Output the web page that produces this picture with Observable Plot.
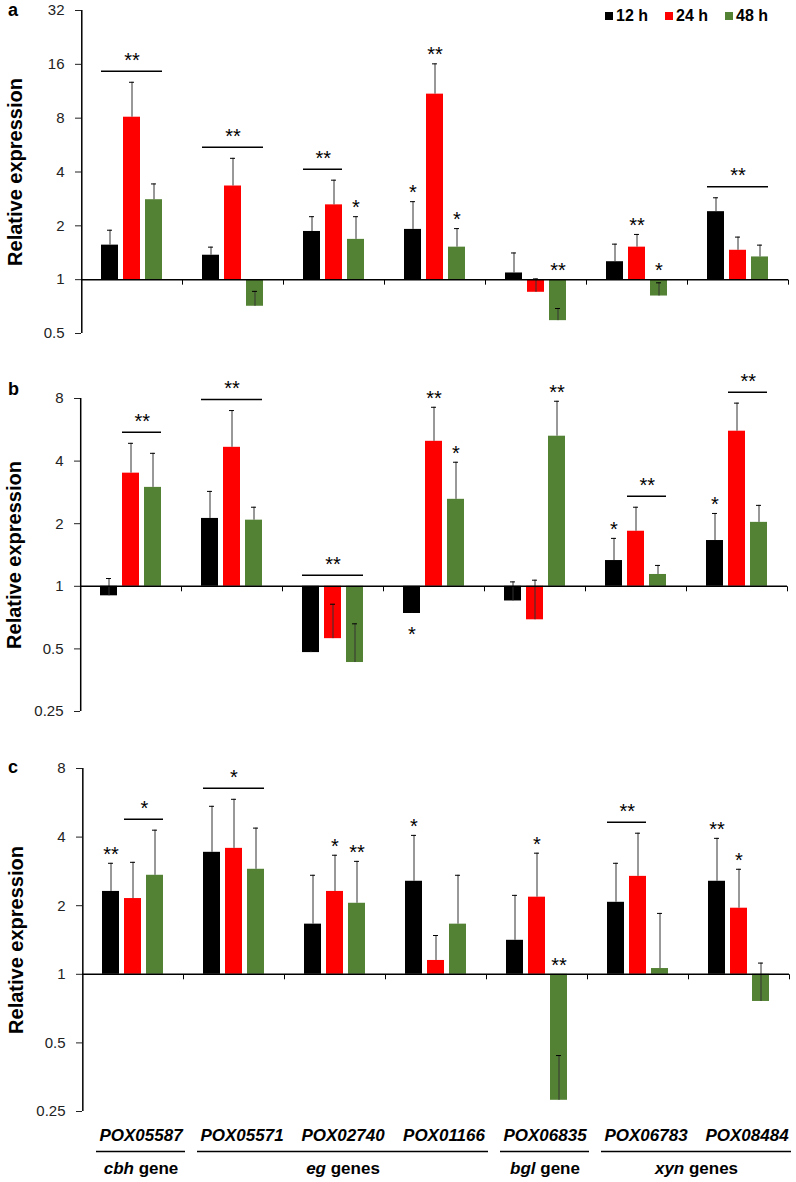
<!DOCTYPE html>
<html><head><meta charset="utf-8">
<script src="https://cdn.jsdelivr.net/npm/d3@7"></script>
<script src="https://cdn.jsdelivr.net/npm/@observablehq/plot@0.6"></script>
<style>
html,body{margin:0;padding:0;background:#fff;overflow:hidden}
#fig{position:relative;width:796px;height:1182px;font-family:"Liberation Sans",Arial,sans-serif;overflow:hidden}
#fig svg{overflow:visible;background:transparent !important;position:absolute;left:0;max-width:none !important}
.panel-letter{position:absolute;left:8px;font-weight:bold;font-size:18px;line-height:20px}
#legend{position:absolute;top:7px;left:605px;display:flex;gap:17px;font-weight:bold;font-size:16px;line-height:18px}
#legend .item{display:flex;align-items:center;gap:3px}
#legend .sw{width:8px;height:8px;display:inline-block}
[aria-label="y-axis label"]{font-size:20px;font-weight:bold;fill:#000}
</style>
</head><body>
<div id="fig"></div>
<script>
const genes = ["POX05587","POX05571","POX02740","POX01166","POX06835","POX06783","POX08484"];
const times = ["12 h","24 h","48 h"];
const colors = ["#000000","#ff0000","#548235"];
const groupNames = ["cbh gene","eg genes","bgl gene","xyn genes"];
const groupMembers = [["POX05587"],["POX05571","POX02740","POX01166"],["POX06835"],["POX06783","POX08484"]];
const yLabel = "Relative expression";

// Panel a
const a12   = [1.56, 1.37, 1.86, 1.91, 1.09, 1.26, 2.40];
const a12Hi = [1.89, 1.52, 2.25, 2.73, 1.41, 1.58, 2.87];
const a24   = [8.1, 3.34, 2.62, 10.9, 0.85, 1.52, 1.46];
const a24Hi = [12.7, 4.77, 3.6, 16.1, 1.01, 1.79, 1.73];
const a48   = [2.8, 0.71, 1.68, 1.52, 0.59, 0.81, 1.34];
const a48Hi = [3.43, 0.86, 2.25, 1.93, 0.69, 0.96, 1.56];
const aTicks = [0.5, 1, 2, 4, 8, 16, 32];
const aStars = [["POX02740","48 h","*"],["POX01166","12 h","*"],["POX01166","24 h","**"],["POX01166","48 h","*"],["POX06835","48 h","**"],["POX06783","24 h","**"],["POX06783","48 h","*"]];
const aBrackets = [["POX05587","12 h","48 h","**"],["POX05571","12 h","48 h","**"],["POX02740","12 h","24 h","**"],["POX08484","12 h","48 h","**"]];

// Panel b
const b12   = [0.90, 2.12, 0.48, 0.74, 0.85, 1.33, 1.66];
const b12Hi = [1.09, 2.86, 0.49, 0.75, 1.05, 1.70, 2.24];
const b24   = [3.5, 4.66, 0.56, 4.98, 0.69, 1.84, 5.57];
const b24Hi = [4.87, 7.0, 0.82, 7.26, 1.07, 2.4, 7.6];
const b48   = [2.99, 2.08, 0.43, 2.62, 5.27, 1.14, 2.03];
const b48Hi = [4.36, 2.4, 0.66, 3.95, 7.76, 1.26, 2.45];
const bTicks = [0.25, 0.5, 1, 2, 4, 8];
const bStars = [["POX01166","12 h","*","below"],["POX01166","24 h","**"],["POX01166","48 h","*"],["POX06835","48 h","**"],["POX06783","12 h","*"],["POX08484","12 h","*"]];
const bBrackets = [["POX05587","24 h","48 h","**"],["POX05571","12 h","48 h","**"],["POX02740","12 h","48 h","**"],["POX06783","24 h","48 h","**"],["POX08484","24 h","48 h","**"]];

// Panel c
const c12   = [2.31, 3.43, 1.66, 2.56, 1.41, 2.07, 2.56];
const c12Hi = [3.07, 5.46, 2.72, 4.07, 2.22, 3.07, 3.95];
const c24   = [2.15, 3.57, 2.31, 1.15, 2.18, 2.69, 1.95];
const c24Hi = [3.1, 5.86, 3.33, 1.48, 3.4, 4.16, 2.89];
const c48   = [2.72, 2.89, 2.05, 1.66, 0.28, 1.06, 0.76];
const c48Hi = [4.29, 4.38, 3.13, 2.72, 0.44, 1.85, 1.12];
const cTicks = [0.25, 0.5, 1, 2, 4, 8];
const cStars = [["POX05587","12 h","**"],["POX02740","24 h","*"],["POX02740","48 h","**"],["POX01166","12 h","*"],["POX06835","24 h","*"],["POX06835","48 h","**"],["POX08484","12 h","**"],["POX08484","24 h","*"]];
const cBrackets = [["POX05587","24 h","48 h","*"],["POX05571","12 h","48 h","*"],["POX06783","12 h","24 h","**"]];

const baseline = 1;
const FONT = "Liberation Sans, Arial, sans-serif";
const PAD_IN = 0.22, PAD_OUT = 0.86, MR = 6;
const tickDown = {draw(ctx) { ctx.moveTo(0, 0); ctx.lineTo(0, 5); }};

function toRows(series) {
  const rows = [];
  series.forEach(([vals, his], t) => genes.forEach((g, i) => rows.push({gene: g, time: times[t], value: vals[i], hi: his[i]})));
  return rows;
}

function panel({series, stars, brackets, ticks, height, marginTop, marginBottom, marginLeft}) {
  const rows = toRows(series);
  const find = (g, t) => rows.find(r => r.gene === g && r.time === t);
  const starRows = stars.map(([gene, time, label, pos]) => {
    const r = find(gene, time);
    return {gene, time, label, below: pos === "below", y: pos === "below" ? r.value : Math.max(r.hi, baseline)};
  });
  const brRows = brackets.map(([gene, t1, t2, label]) => {
    const i1 = times.indexOf(t1), i2 = times.indexOf(t2);
    const span = rows.filter(r => r.gene === gene && times.indexOf(r.time) >= i1 && times.indexOf(r.time) <= i2);
    return {gene, t1, t2, label, n: i2 - i1 + 1, mid: times[Math.floor((i1 + i2) / 2)], y: Math.max(baseline, d3.max(span, r => r.hi))};
  });
  const facetW = (796 - marginLeft - MR) / genes.length;
  const step = facetW / (times.length - PAD_IN + 2 * PAD_OUT);
  const firstCenter = step * PAD_OUT + step * (1 - PAD_IN) / 2;
  const [yMin, yMax] = d3.extent(ticks);
  return Plot.plot({
    width: 796, height, marginTop, marginBottom, marginLeft, marginRight: MR,
    style: {fontFamily: FONT, fontSize: "15px", color: "#222", background: "transparent"},
    fx: {domain: genes, padding: 0, axis: null},
    x: {domain: times, paddingInner: PAD_IN, paddingOuter: PAD_OUT, axis: null},
    y: {type: "log", base: 2, domain: [yMin, yMax], ticks, tickFormat: d => String(d), tickSize: 6, tickPadding: 11,
        label: yLabel, labelArrow: "none", labelAnchor: "center", labelOffset: 74},
    color: {domain: times, range: colors},
    marks: [
      Plot.barY(rows, {fx: "gene", x: "time", y1: baseline, y2: "value", fill: "time"}),
      Plot.ruleX(rows, {fx: "gene", x: "time", y1: "value", y2: "hi", stroke: "#333", strokeWidth: 1}),
      Plot.tickY(rows, {fx: "gene", x: "time", y: "hi", stroke: "#000", strokeWidth: 1, inset: 6}),
      Plot.ruleY([baseline], {stroke: "#000", strokeWidth: 1.5}),
      Plot.ruleX([genes[0]], {fx: d => d, x: () => times[0], y1: () => yMin, y2: () => yMax, dx: -firstCenter, stroke: "#000", strokeWidth: 1.5}),
      Plot.dot(genes, {fx: d => d, y: () => baseline, frameAnchor: "right", symbol: tickDown, r: 3, stroke: "#000", fill: "none", strokeWidth: 1}),
      Plot.ruleY(brRows, {fx: "gene", x1: "t1", x2: "t2", y: "y", dy: -11, stroke: "#000", strokeWidth: 1.5}),
      Plot.text(brRows.filter(d => d.n % 2 === 1), {fx: "gene", x: "mid", y: "y", text: "label", dy: -22, fontSize: 20, fill: "#000"}),
      Plot.text(brRows.filter(d => d.n % 2 === 0), {fx: "gene", x: "t1", y: "y", text: "label", dx: step / 2, dy: -22, fontSize: 20, fill: "#000"}),
      Plot.text(starRows.filter(d => !d.below), {fx: "gene", x: "time", y: "y", text: "label", dy: -9, fontSize: 20, fill: "#000"}),
      Plot.text(starRows.filter(d => d.below), {fx: "gene", x: "time", y: "y", text: "label", dy: 21, fontSize: 20, fill: "#000"})
    ]
  });
}

const fig = document.getElementById("fig");
function place(el, top, left = 0) { el.style.top = top + "px"; el.style.left = left + "px"; fig.appendChild(el); }

place(panel({series: [[a12, a12Hi], [a24, a24Hi], [a48, a48Hi]], stars: aStars, brackets: aBrackets, ticks: aTicks, height: 345, marginTop: 10, marginBottom: 12, marginLeft: 79}), 0);
place(panel({series: [[b12, b12Hi], [b24, b24Hi], [b48, b48Hi]], stars: bStars, brackets: bBrackets, ticks: bTicks, height: 380, marginTop: 53, marginBottom: 14, marginLeft: 77}), 345);
place(panel({series: [[c12, c12Hi], [c24, c24Hi], [c48, c48Hi]], stars: cStars, brackets: cBrackets, ticks: cTicks, height: 386, marginTop: 43, marginBottom: 0, marginLeft: 80}), 725);

// remove any label arrow that the library may add
d3.select(fig).selectAll('[aria-label="y-axis label"] text').each(function() {
  this.textContent = this.textContent.replace(/^[↑↓]\s*/, "");
});

// bottom gene / group annotations
const geneRows = genes.map(g => {
  const m = groupMembers.find(gr => gr.includes(g));
  return {gene: g, first: m[0] === g, last: m[m.length - 1] === g};
});
const groupRows = groupNames.map((name, i) => {
  const m = groupMembers[i];
  return {name, gene: m[Math.ceil(m.length / 2) - 1], even: m.length % 2 === 0};
});
const bottom = Plot.plot({
  width: 796, height: 71, marginTop: 9, marginBottom: 0, marginLeft: 80, marginRight: MR,
  style: {fontFamily: FONT, fontSize: "17px", color: "#000", background: "transparent"},
  fx: {domain: genes, padding: 0, axis: null},
  marks: [
    Plot.text(genes, {fx: d => d, text: d => d, frameAnchor: "top", dy: 8, fontStyle: "italic", fontWeight: "bold", fontSize: 17, fill: "#000"}),
    ...[[true, true], [true, false], [false, true], [false, false]].map(([f, l]) =>
      Plot.ruleY(geneRows.filter(r => r.first === f && r.last === l), {fx: "gene", y: null, insetLeft: f ? 6 : 0, insetRight: l ? 6 : 0, stroke: "#000", strokeWidth: 1.5})),
    Plot.text(groupRows.filter(d => !d.even), {fx: "gene", text: "name", frameAnchor: "bottom", dy: -9, fontWeight: "bold", fontSize: 17, fill: "#000"}),
    Plot.text(groupRows.filter(d => d.even), {fx: "gene", text: "name", frameAnchor: "bottom-right", textAnchor: "middle", dy: -9, fontWeight: "bold", fontSize: 17, fill: "#000"})
  ]
});
place(bottom, 1111, 8);
d3.select(bottom).selectAll("text").each(function() {
  const t = this.textContent;
  if (!groupNames.includes(t)) return;
  const i = t.indexOf(" ");
  const s = d3.select(this).attr("xml:space", "preserve").style("white-space", "pre");
  s.text(null);
  s.append("tspan").attr("font-style", "italic").style("font-style", "italic").text(t.slice(0, i));
  s.append("tspan").text(t.slice(i));
});

// panel letters
[["a", 0], ["b", 379], ["c", 757]].forEach(([k, top]) => {
  const d = document.createElement("div"); d.className = "panel-letter"; d.textContent = k; d.style.top = top + "px"; fig.appendChild(d);
});

// legend
const legend = d3.select(fig).append("div").attr("id", "legend");
const items = legend.selectAll("div").data(times).join("div").attr("class", "item");
items.append("span").attr("class", "sw").style("background", (d, i) => colors[i]);
items.append("span").text(d => d);
</script>
</body></html>
